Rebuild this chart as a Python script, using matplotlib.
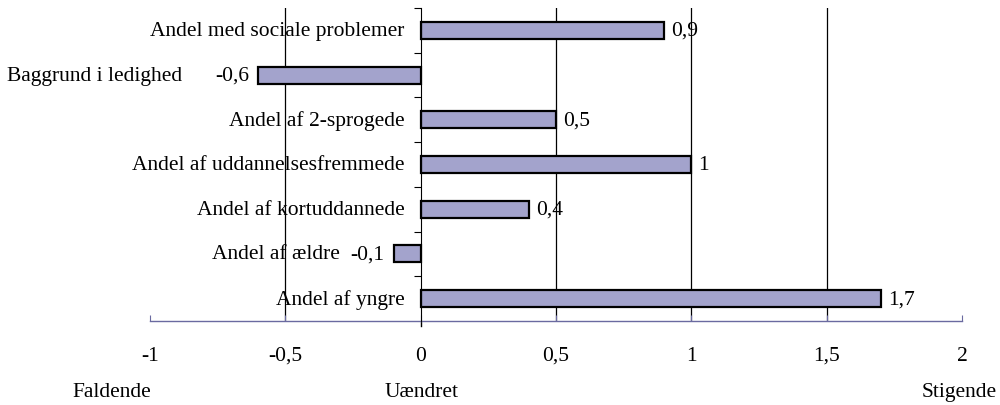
import matplotlib
matplotlib.use("Agg")
import matplotlib.pyplot as plt

categories = ["Andel med sociale problemer", "Baggrund i ledighed", "Andel af 2-sprogede",
              "Andel af uddannelsesfremmede", "Andel af kortuddannede", "Andel af ældre",
              "Andel af yngre"]
values = [0.9, -0.6, 0.5, 1.0, 0.4, -0.1, 1.7]
xticks = [-1, -0.5, 0, 0.5, 1, 1.5, 2]
xticklabels = ["-1", "-0,5", "0", "0,5", "1", "1,5", "2"]
bottom_labels = ["Faldende", "Uændret", "Stigende"]

FONT = ["Liberation Serif", "DejaVu Serif"]
plt.rcParams["font.family"] = FONT
FS = 15.5

def fmt(v):
    return ("%g" % v).replace(".", ",")

fig = plt.figure(figsize=(10, 4.06), dpi=100)
ax = fig.add_axes([0.150, 0.207, 0.812, 0.771])

n = len(categories)
ypos = list(range(n))
ax.barh(ypos, values, height=0.38, color="#A3A3CC", edgecolor="black", linewidth=1.6, zorder=3)
ax.set_ylim(n - 0.5, -0.5)
ax.set_xlim(-1, 2)

for g in [-0.5, 0.5, 1, 1.5]:
    ax.axvline(g, color="black", linewidth=0.9, zorder=1)

for s in ["top", "right"]:
    ax.spines[s].set_visible(False)
ax.spines["left"].set_position(("data", 0))
ax.spines["left"].set_color("black")
ax.spines["left"].set_zorder(4)
ax.spines["bottom"].set_color("#6A6AA0")
ax.spines["bottom"].set_linewidth(1.0)
ax.plot([0, 0], [n - 0.5, n - 0.5 + 0.12], color="black", linewidth=1.0, clip_on=False)

ax.set_xticks(xticks)
ax.set_xticklabels(xticklabels, fontsize=FS)
ax.tick_params(axis="x", direction="in", length=4, pad=18, color="#6A6AA0")
ax.set_yticks([i - 0.5 for i in range(n)])
ax.set_yticklabels([])
ax.tick_params(axis="y", direction="out", length=5, color="black")

cat_offsets = {-0.6: -76, -0.1: -54}
for i, (c, v) in enumerate(zip(categories, values)):
    if v >= 0:
        ax.annotate(fmt(v), xy=(v, i), xytext=(7, 0), textcoords="offset pixels",
                    ha="left", va="center", fontsize=FS)
        ax.annotate(c, xy=(0, i), xytext=(-16, 0), textcoords="offset pixels",
                    ha="right", va="center", fontsize=FS)
    else:
        ax.annotate(fmt(v), xy=(v, i), xytext=(-9, 0), textcoords="offset pixels",
                    ha="right", va="center", fontsize=FS)
        ax.annotate(c, xy=(v, i), xytext=(cat_offsets.get(v, -60), 0), textcoords="offset pixels",
                    ha="right", va="center", fontsize=FS)

fig.text(0.112, 1 - 393 / 406, bottom_labels[0], ha="center", va="center", fontsize=FS)
fig.text(0.422, 1 - 393 / 406, bottom_labels[1], ha="center", va="center", fontsize=FS)
fig.text(0.997, 1 - 393 / 406, bottom_labels[2], ha="right", va="center", fontsize=FS)

fig.savefig("out.png", dpi=100)
